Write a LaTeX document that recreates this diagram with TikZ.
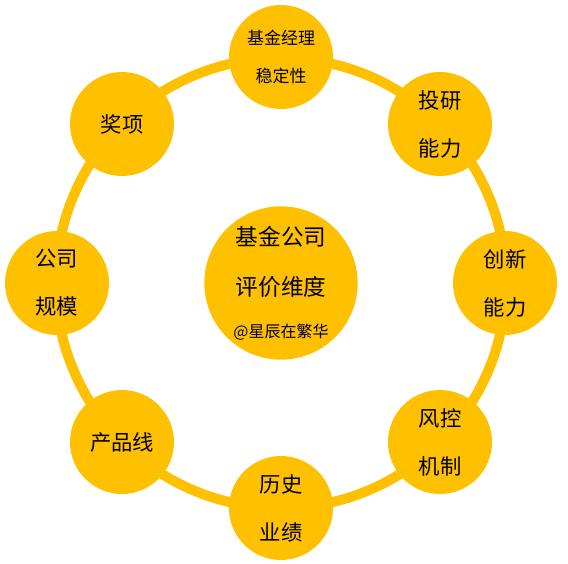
\documentclass[tikz,border=0pt]{standalone}
\usepackage{fontspec}
\setmainfont{Noto Sans CJK SC}
\usepackage{tikz}
\usetikzlibrary{positioning}
\definecolor{goldyellow}{RGB}{255, 192, 0}

\begin{document}
\begin{tikzpicture}[x=0.75pt, y=-0.75pt,
    dim/.style={circle, fill=goldyellow, minimum size=78pt, inner sep=0pt, align=center, font=\fontsize{16}{36}\selectfont},
    ring/.style={draw=goldyellow, line width=7.5pt}]
    \useasboundingbox (0,0) rectangle (568,564);

    \coordinate (hub) at (281,283);
    \draw[ring] (hub) circle[radius=168.75pt];

    \node[dim, font=\fontsize{12.75}{28}\selectfont] (manager) at (281,57) {基金经理\\稳定性};
    \node[dim] (research) at (440,124) {投研\\能力};
    \node[dim] (innovation) at (505,283) {创新\\能力};
    \node[dim] (risk) at (440,442) {风控\\机制};
    \node[dim] (history) at (281,508) {历史\\业绩};
    \node[dim] (product) at (122,442) {产品线};
    \node[dim] (scale) at (57,283) {公司\\规模};
    \node[dim] (award) at (122,124) {奖项};

    \node[dim, minimum size=115pt, font=\fontsize{17}{37.5}\selectfont] (core) at (hub)
        {基金公司\\评价维度\\[-6pt]{\fontsize{12}{14}\selectfont @星辰在繁华}};
\end{tikzpicture}
\end{document}
